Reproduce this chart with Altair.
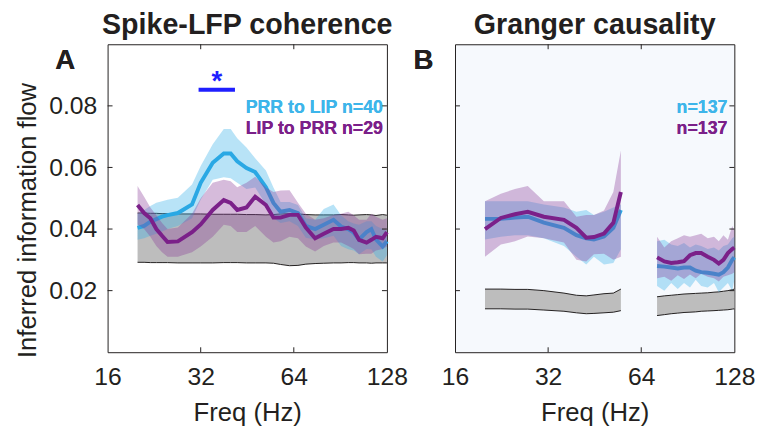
import altair as alt
import pandas as pd

FONT = "Liberation Sans"
INK = "#231f20"
BLUE = "#2aa8e4"
BLUE_BAND = "#35b0e8"
PURPLE = "#7b2089"
PURPLE_BAND = "#8a3d99"
GRAY = "#bdbdbd"
SIG = "#1f1fff"

# ---------------- Panel A: spike-LFP coherence ----------------
freq_a = [20, 21, 22, 23, 24, 25, 27, 30, 32, 35, 38, 40, 42, 45, 48, 52, 55,
          58, 62, 66, 70, 75, 80, 86, 91, 96, 100, 104, 110, 114, 118, 124, 128]
prr_lip_a = [0.0404, 0.0410, 0.0424, 0.0432, 0.0440, 0.0445, 0.0452, 0.0480, 0.0550,
             0.0615, 0.0645, 0.0645, 0.0620, 0.0598, 0.0585, 0.0536, 0.0485, 0.0456,
             0.0462, 0.0452, 0.0410, 0.0400, 0.0414, 0.0430, 0.0408, 0.0400, 0.0388,
             0.0366, 0.0390, 0.0400, 0.0366, 0.0343, 0.0360]
prr_lip_a_hi = [0.0450, 0.0462, 0.0475, 0.0485, 0.0490, 0.0495, 0.0502, 0.0545, 0.0605,
                0.0675, 0.0725, 0.0725, 0.0695, 0.0665, 0.0630, 0.0590, 0.0535, 0.0488,
                0.0488, 0.0478, 0.0435, 0.0430, 0.0465, 0.0480, 0.0445, 0.0425, 0.0418,
                0.0414, 0.0425, 0.0425, 0.0410, 0.0400, 0.0395]
prr_lip_a_lo = [0.0365, 0.0370, 0.0378, 0.0385, 0.0392, 0.0400, 0.0410, 0.0435, 0.0495,
                0.0560, 0.0568, 0.0565, 0.0550, 0.0530, 0.0535, 0.0480, 0.0435, 0.0420,
                0.0425, 0.0410, 0.0372, 0.0366, 0.0370, 0.0378, 0.0345, 0.0334, 0.0330,
                0.0318, 0.0335, 0.0334, 0.0310, 0.0295, 0.0315]
lip_prr_a = [0.0478, 0.0452, 0.0435, 0.0400, 0.0378, 0.0358, 0.0360, 0.0390, 0.0415,
             0.0462, 0.0494, 0.0485, 0.0462, 0.0470, 0.0505, 0.0478, 0.0437, 0.0437,
             0.0446, 0.0446, 0.0405, 0.0370, 0.0385, 0.0400, 0.0400, 0.0404, 0.0395,
             0.0365, 0.0356, 0.0365, 0.0375, 0.0370, 0.0390]
lip_prr_a_hi = [0.0540, 0.0505, 0.0470, 0.0445, 0.0420, 0.0400, 0.0405, 0.0450, 0.0500,
                0.0550, 0.0560, 0.0555, 0.0536, 0.0550, 0.0570, 0.0535, 0.0520, 0.0525,
                0.0526, 0.0485, 0.0450, 0.0430, 0.0435, 0.0446, 0.0450, 0.0456, 0.0445,
                0.0430, 0.0430, 0.0450, 0.0440, 0.0430, 0.0435]
lip_prr_a_lo = [0.0415, 0.0400, 0.0375, 0.0345, 0.0325, 0.0310, 0.0310, 0.0325, 0.0343,
                0.0375, 0.0414, 0.0410, 0.0390, 0.0390, 0.0410, 0.0375, 0.0356, 0.0360,
                0.0375, 0.0370, 0.0343, 0.0327, 0.0345, 0.0356, 0.0356, 0.0345, 0.0335,
                0.0318, 0.0320, 0.0320, 0.0330, 0.0335, 0.0343]
null_a_hi = [0.0452, 0.0452, 0.0451, 0.0451, 0.0450, 0.0450, 0.0449, 0.0449, 0.0449,
             0.0448, 0.0448, 0.0448, 0.0448, 0.0447, 0.0447, 0.0446, 0.0447, 0.0449,
             0.0450, 0.0449, 0.0447, 0.0446, 0.0446, 0.0446, 0.0447, 0.0446, 0.0445,
             0.0446, 0.0447, 0.0446, 0.0444, 0.0447, 0.0445]
null_a_lo = [0.0292, 0.0292, 0.0291, 0.0291, 0.0291, 0.0291, 0.0290, 0.0290, 0.0290,
             0.0290, 0.0291, 0.0291, 0.0291, 0.0290, 0.0290, 0.0290, 0.0289, 0.0285,
             0.0281, 0.0282, 0.0286, 0.0288, 0.0289, 0.0290, 0.0290, 0.0291, 0.0291,
             0.0290, 0.0290, 0.0289, 0.0290, 0.0290, 0.0290]

# significance marker (PRR->LIP > LIP->PRR)
sig_from, sig_to, sig_level = 31.5, 41.3, 0.0852

# ---------------- Panel B: Granger causality (two bands) ----------------
freq_b1 = [20, 22.5, 25, 27.5, 31, 36, 39.5, 42.5, 45, 48.5, 52, 55]
prr_lip_b1 = [0.0433, 0.0433, 0.0437, 0.0440, 0.0421, 0.0404, 0.0380, 0.0370, 0.0366,
              0.0376, 0.0404, 0.0462]
prr_lip_b1_hi = [0.0490, 0.0490, 0.0490, 0.0490, 0.0480, 0.0470, 0.0456, 0.0462, 0.0446,
                 0.0456, 0.0470, 0.0480]
prr_lip_b1_lo = [0.0366, 0.0375, 0.0380, 0.0380, 0.0370, 0.0345, 0.0310, 0.0285, 0.0310,
                 0.0285, 0.0290, 0.0334]
lip_prr_b1 = [0.0400, 0.0436, 0.0448, 0.0456, 0.0440, 0.0430, 0.0404, 0.0372, 0.0374,
              0.0385, 0.0420, 0.0520]
lip_prr_b1_hi = [0.0490, 0.0515, 0.0530, 0.0540, 0.0490, 0.0490, 0.0440, 0.0446, 0.0446,
                 0.0460, 0.0520, 0.0655]
lip_prr_b1_lo = [0.0310, 0.0350, 0.0360, 0.0376, 0.0370, 0.0356, 0.0300, 0.0295, 0.0318,
                 0.0320, 0.0300, 0.0310]
null_b1_hi = [0.0205, 0.0205, 0.0204, 0.0204, 0.0200, 0.0192, 0.0185, 0.0183, 0.0186,
              0.0190, 0.0192, 0.0205]
null_b1_lo = [0.0141, 0.0141, 0.0140, 0.0140, 0.0137, 0.0133, 0.0128, 0.0125, 0.0126,
              0.0128, 0.0130, 0.0135]

freq_b2 = [72, 76, 80, 84, 88, 92, 96, 100, 105, 110, 114, 118, 122, 126, 128]
prr_lip_b2 = [0.0280, 0.0278, 0.0275, 0.0272, 0.0275, 0.0275, 0.0265, 0.0260, 0.0258,
              0.0255, 0.0252, 0.0260, 0.0275, 0.0300, 0.0308]
prr_lip_b2_hi = [0.0360, 0.0365, 0.0350, 0.0345, 0.0355, 0.0340, 0.0350, 0.0345, 0.0335,
                 0.0340, 0.0330, 0.0345, 0.0350, 0.0370, 0.0375]
prr_lip_b2_lo = [0.0215, 0.0200, 0.0225, 0.0205, 0.0225, 0.0210, 0.0235, 0.0215, 0.0210,
                 0.0225, 0.0195, 0.0210, 0.0225, 0.0200, 0.0235]
lip_prr_b2 = [0.0308, 0.0295, 0.0290, 0.0292, 0.0296, 0.0315, 0.0322, 0.0322, 0.0310,
              0.0300, 0.0288, 0.0300, 0.0322, 0.0335, 0.0340]
lip_prr_b2_hi = [0.0375, 0.0340, 0.0360, 0.0370, 0.0380, 0.0375, 0.0380, 0.0385, 0.0370,
                 0.0375, 0.0360, 0.0380, 0.0365, 0.0410, 0.0395]
lip_prr_b2_lo = [0.0240, 0.0245, 0.0232, 0.0250, 0.0238, 0.0252, 0.0240, 0.0255, 0.0245,
                 0.0240, 0.0230, 0.0245, 0.0250, 0.0255, 0.0260]
null_b2_hi = [0.0180, 0.0183, 0.0185, 0.0187, 0.0189, 0.0190, 0.0191, 0.0192, 0.0193,
              0.0195, 0.0196, 0.0198, 0.0200, 0.0203, 0.0205]
null_b2_lo = [0.0119, 0.0122, 0.0125, 0.0127, 0.0129, 0.0130, 0.0131, 0.0133, 0.0134,
              0.0135, 0.0136, 0.0137, 0.0138, 0.0140, 0.0141]

x_ticks = [16, 32, 64, 128]
y_ticks = [0.02, 0.04, 0.06, 0.08]

W, H = 283, 312
TICK = 5

# ---------------- tables ----------------
df_a = pd.DataFrame({
    "f": freq_a, "seg": 1,
    "pl": prr_lip_a, "pl_hi": prr_lip_a_hi, "pl_lo": prr_lip_a_lo,
    "lp": lip_prr_a, "lp_hi": lip_prr_a_hi, "lp_lo": lip_prr_a_lo,
    "n_hi": null_a_hi, "n_lo": null_a_lo,
})
df_b = pd.concat([
    pd.DataFrame({
        "f": freq_b1, "seg": 1,
        "pl": prr_lip_b1, "pl_hi": prr_lip_b1_hi, "pl_lo": prr_lip_b1_lo,
        "lp": lip_prr_b1, "lp_hi": lip_prr_b1_hi, "lp_lo": lip_prr_b1_lo,
        "n_hi": null_b1_hi, "n_lo": null_b1_lo,
    }),
    pd.DataFrame({
        "f": freq_b2, "seg": 2,
        "pl": prr_lip_b2, "pl_hi": prr_lip_b2_hi, "pl_lo": prr_lip_b2_lo,
        "lp": lip_prr_b2, "lp_hi": lip_prr_b2_hi, "lp_lo": lip_prr_b2_lo,
        "n_hi": null_b2_hi, "n_lo": null_b2_lo,
    }),
], ignore_index=True)

xt = pd.DataFrame({"t": x_ticks[1:-1]})
yt = pd.DataFrame({"t": y_ticks})

xscale = alt.Scale(type="log", base=2, domain=[16, 128], nice=False)
yscale = alt.Scale(domain=[0, 0.1], nice=False, zero=False)

x_axis = alt.Axis(
    values=x_ticks, format="d", labelFont=FONT, labelFontSize=25, labelColor=INK,
    labelFlush=False, labelOverlap=False, labelPadding=13, ticks=False, domain=False,
    grid=False, title="Freq (Hz)", titleFont=FONT, titleFontSize=26,
    titleFontWeight="normal", titleColor=INK, titleY=69, titleBaseline="alphabetic",
)
y_axis_a = alt.Axis(
    values=y_ticks, format=".2f", labelFont=FONT, labelFontSize=25, labelColor=INK,
    labelPadding=11, ticks=False, domain=False, grid=False,
    title="Inferred information flow", titleFont=FONT, titleFontSize=26,
    titleFontWeight="normal", titleColor=INK, titleAngle=270, titleX=-73, titleY=178,
    titleAlign="center", titleBaseline="alphabetic",
)


def X(field):
    return alt.X(field, type="quantitative", scale=xscale, axis=x_axis)


def Y(field, axis):
    return alt.Y(field, type="quantitative", scale=yscale, axis=axis)


def panel(df, y_axis, letter, legend):
    base = alt.Chart(df)
    null_band = base.mark_area(color=GRAY, opacity=1).encode(
        x=X("f"), y=Y("n_lo", y_axis), y2="n_hi", detail="seg:N")
    null_hi = base.mark_line(color=INK, strokeWidth=1).encode(
        x=X("f"), y=Y("n_hi", y_axis), detail="seg:N")
    null_lo = base.mark_line(color=INK, strokeWidth=1).encode(
        x=X("f"), y=Y("n_lo", y_axis), detail="seg:N")
    pl_band = base.mark_area(color=BLUE_BAND, opacity=0.35).encode(
        x=X("f"), y=Y("pl_lo", y_axis), y2="pl_hi", detail="seg:N")
    pl_line = base.mark_line(color=BLUE, strokeWidth=4).encode(
        x=X("f"), y=Y("pl", y_axis), detail="seg:N")
    lp_band = base.mark_area(color=PURPLE_BAND, opacity=0.35).encode(
        x=X("f"), y=Y("lp_lo", y_axis), y2="lp_hi", detail="seg:N")
    lp_line = base.mark_line(color=PURPLE, strokeWidth=4).encode(
        x=X("f"), y=Y("lp", y_axis), detail="seg:N")

    # inward tick marks on all four sides of the box
    tx_top = alt.Chart(xt).mark_rule(color=INK, strokeWidth=1).encode(
        x=X("t"), y=alt.value(0), y2=alt.value(TICK))
    tx_bot = alt.Chart(xt).mark_rule(color=INK, strokeWidth=1).encode(
        x=X("t"), y=alt.value(H - TICK), y2=alt.value(H))
    ty_left = alt.Chart(yt).mark_rule(color=INK, strokeWidth=1).encode(
        y=Y("t", y_axis), x=alt.value(0), x2=alt.value(TICK))
    ty_right = alt.Chart(yt).mark_rule(color=INK, strokeWidth=1).encode(
        y=Y("t", y_axis), x=alt.value(W - TICK), x2=alt.value(W))

    letter_mark = alt.Chart(xt).mark_text(
        font=FONT, fontSize=28, fontWeight="bold", color=INK, align="center",
        baseline="alphabetic").encode(
        x=alt.value(letter[1]), y=alt.value(25), text=alt.value(letter[0]))

    leg1 = alt.Chart(xt).mark_text(
        font=FONT, fontSize=18, fontWeight="bold", color="#3db5ea", align="right",
        baseline="alphabetic").encode(
        x=alt.value(legend[2]), y=alt.value(70), text=alt.value(legend[0]))
    leg2 = alt.Chart(xt).mark_text(
        font=FONT, fontSize=18, fontWeight="bold", color=PURPLE, align="right",
        baseline="alphabetic").encode(
        x=alt.value(legend[2]), y=alt.value(91), text=alt.value(legend[1]))

    return [null_band, null_hi, null_lo, pl_band, pl_line, lp_band, lp_line,
            tx_top, tx_bot, ty_left, ty_right, letter_mark, leg1, leg2]


layers_a = panel(df_a, y_axis_a, ("A", -43),
                 ("PRR to LIP n=40", "LIP to PRR n=29", 279))

sig_df = pd.DataFrame({"f0": [sig_from], "f1": [sig_to], "y": [sig_level],
                       "fc": [(sig_from * sig_to) ** 0.5]})
sig_bar = alt.Chart(sig_df).mark_rule(color=SIG, strokeWidth=4).encode(
    x=X("f0"), x2="f1", y=Y("y", y_axis_a))
sig_star = alt.Chart(sig_df).mark_text(
    font=FONT, fontSize=28, fontWeight="bold", color=SIG, align="center",
    baseline="alphabetic").encode(
    x=X("fc"), y=Y("y", y_axis_a), text=alt.value("*"))

title_style = dict(font=FONT, fontSize=29, fontWeight="bold", color=INK,
                   anchor="middle", frame="group", baseline="alphabetic", offset=-19)

chart_a = alt.layer(*layers_a, sig_bar, sig_star).properties(
    width=W, height=H,
    title=alt.TitleParams("Spike-LFP coherence", **title_style),
)

layers_b = panel(df_b, None, ("B", -32), ("n=137", "n=137", 276))
chart_b = alt.layer(*layers_b).properties(
    width=W, height=H,
    title=alt.TitleParams("Granger causality", **title_style),
    view=alt.ViewBackground(fill="#f6f9fd", stroke=INK, strokeWidth=1),
)

chart = alt.hconcat(chart_a, chart_b, spacing=4).properties(
    padding={"left": 14, "top": 8, "right": 5, "bottom": 5},
    background="white",
).configure_view(stroke=INK, strokeWidth=1)

chart.save("out.html", embed_options={"renderer": "svg", "actions": False})
